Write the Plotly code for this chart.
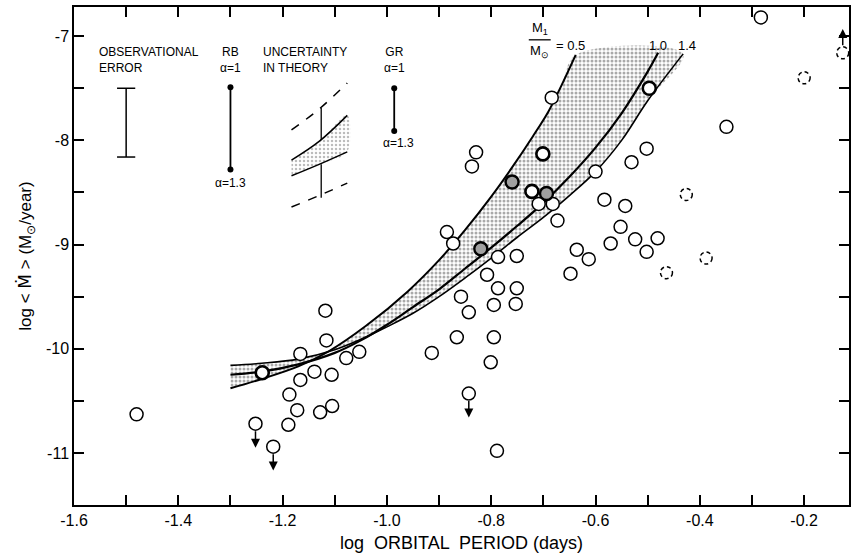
import plotly.graph_objects as go

# ---------------------------------------------------------------
# Observed systems: log orbital period (days) vs log <Mdot> (Msun/yr)
# ---------------------------------------------------------------
open_x = [-1.480, -1.118, -1.116, -1.166, -1.139, -1.106, -1.166, -1.078, -1.053,
          -1.187, -1.172, -1.128, -1.105, -1.189, -0.914, -0.866, -0.795, -0.801,
          -0.789, -0.858, -0.843, -0.808, -0.787, -0.795, -0.751, -0.753, -0.787,
          -0.751, -0.648, -0.829, -0.837, -0.709, -0.682, -0.673, -0.885, -0.873,
          -0.684, -0.600, -0.531, -0.502, -0.583, -0.543, -0.552, -0.571, -0.524,
          -0.481, -0.502, -0.636, -0.613, -0.349, -0.283]
open_y = [-10.63, -9.635, -9.92, -10.05, -10.22, -10.25, -10.30, -10.09, -10.03,
          -10.44, -10.59, -10.61, -10.55, -10.73, -10.04, -9.89, -9.89, -10.13,
          -10.98, -9.50, -9.65, -9.29, -9.42, -9.58, -9.42, -9.57, -9.12,
          -9.11, -9.28, -8.115, -8.25, -8.61, -8.61, -8.77, -8.88, -8.99,
          -7.59, -8.30, -8.21, -8.08, -8.57, -8.63, -8.83, -8.99, -8.95,
          -8.94, -9.07, -9.05, -9.14, -7.87, -6.82]

# systems drawn with a heavy outline
bold_x = [-1.239, -0.701, -0.497, -0.722]
bold_y = [-10.23, -8.13, -7.50, -8.49]

# systems drawn with a hatched interior
hatched_x = [-0.760, -0.820, -0.694]
hatched_y = [-8.40, -9.04, -8.51]

# uncertain systems (dashed outline)
dashed_x = [-0.426, -0.388, -0.464, -0.200, -0.126]
dashed_y = [-8.52, -9.13, -9.27, -7.40, -7.16]

# upper limits (arrow down) and lower limit (arrow up)
uplim_x = [-1.252, -1.218, -0.843]
uplim_y = [-10.72, -10.94, -10.43]
lowlim_x = [-0.126]
lowlim_y = [-7.16]
LIMIT_ARROW = 0.23   # arrow length, dex

# ---------------------------------------------------------------
# Theoretical tracks for white-dwarf masses M1/Msun = 0.5, 1.0, 1.4
# ---------------------------------------------------------------
m05_x = [-1.30, -1.24, -1.17, -1.11, -1.04, -0.96, -0.90, -0.85, -0.80, -0.76,
         -0.72, -0.69, -0.665, -0.638]
m05_y = [-10.38, -10.29, -10.17, -10.02, -9.78, -9.45, -9.15, -8.86, -8.54, -8.26,
         -7.96, -7.72, -7.47, -7.18]

m10_x = [-1.30, -1.24, -1.17, -1.10, -1.05, -1.00, -0.95, -0.90, -0.85, -0.80,
         -0.75, -0.70, -0.65, -0.60, -0.55, -0.50, -0.48]
m10_y = [-10.25, -10.22, -10.15, -10.04, -9.92, -9.77, -9.60, -9.43, -9.23, -9.03,
         -8.82, -8.60, -8.35, -8.07, -7.74, -7.34, -7.16]

m14_x = [-1.30, -1.24, -1.17, -1.10, -1.05, -1.00, -0.95, -0.90, -0.85, -0.80,
         -0.75, -0.70, -0.65, -0.60, -0.55, -0.50, -0.432]
m14_y = [-10.16, -10.14, -10.10, -10.01, -9.91, -9.79, -9.66, -9.50, -9.32, -9.13,
         -8.93, -8.74, -8.53, -8.30, -8.00, -7.62, -7.17]

# ---------------------------------------------------------------
# Key in the upper left
# ---------------------------------------------------------------
obs_err_x = [-1.50, -1.50]
obs_err_y = [-7.50, -8.16]
rb_x = [-1.30, -1.30]
rb_y = [-7.49, -8.28]
gr_x = [-0.986, -0.986]
gr_y = [-7.50, -7.91]

unc_x = [-1.183, -1.13, -1.076]
unc_upper_dash = [-7.90, -7.70, -7.45]
unc_upper_solid = [-8.19, -8.01, -7.76]
unc_lower_solid = [-8.34, -8.23, -8.11]
unc_lower_dash = [-8.64, -8.53, -8.41]
unc_bar_x = -1.126
unc_bar_upper = [-7.69, -8.00]
unc_bar_lower = [-8.23, -8.55]

x_tick_vals = [-1.6, -1.5, -1.4, -1.3, -1.2, -1.1, -1.0, -0.9, -0.8, -0.7,
               -0.6, -0.5, -0.4, -0.3, -0.2]
x_tick_text = ["-1.6", "", "-1.4", "", "-1.2", "", "-1.0", "",
               "-0.8", "", "-0.6", "", "-0.4", "", "-0.2"]
y_tick_vals = [-11.5, -11.0, -10.5, -10.0, -9.5, -9.0, -8.5, -8.0, -7.5, -7.0]
y_tick_text = ["", "-11", "", "-10", "", "-9", "", "-8", "", "-7"]

FONT = "Liberation Sans, Arial, sans-serif"
INK = "black"

fig = go.Figure()

stipple = dict(shape=".", fgcolor="#555", bgcolor="white", size=4, solidity=0.45)

# shaded band between the 0.5 and 1.4 tracks
fig.add_trace(go.Scatter(
    x=m05_x + m14_x[::-1], y=m05_y + m14_y[::-1],
    mode="lines", fill="toself", fillcolor="white", fillpattern=stipple,
    line=dict(width=0, shape="spline"), hoverinfo="skip", showlegend=False))

for cx, cy, w in [(m05_x, m05_y, 2), (m10_x, m10_y, 2.2), (m14_x, m14_y, 1.6)]:
    fig.add_trace(go.Scatter(x=cx, y=cy, mode="lines",
                             line=dict(color=INK, width=w, shape="spline"),
                             hoverinfo="skip", showlegend=False))

# uncertainty-in-theory inset
fig.add_trace(go.Scatter(
    x=unc_x + unc_x[::-1], y=unc_upper_solid + unc_lower_solid[::-1],
    mode="lines", fill="toself", fillcolor="white",
    fillpattern=dict(shape=".", fgcolor="#777", bgcolor="white", size=4, solidity=0.3),
    line=dict(width=0, shape="spline"), hoverinfo="skip", showlegend=False))
for uy, dash in [(unc_upper_dash, "dash"), (unc_upper_solid, "solid"),
                 (unc_lower_solid, "solid"), (unc_lower_dash, "dash")]:
    fig.add_trace(go.Scatter(x=unc_x, y=uy, mode="lines",
                             line=dict(color=INK, width=1.5, dash=dash, shape="spline"),
                             hoverinfo="skip", showlegend=False))
for seg in (unc_bar_upper, unc_bar_lower):
    fig.add_trace(go.Scatter(x=[unc_bar_x, unc_bar_x], y=seg, mode="lines",
                             line=dict(color=INK, width=1.3),
                             hoverinfo="skip", showlegend=False))

# observational error bar
fig.add_trace(go.Scatter(x=obs_err_x, y=obs_err_y, mode="lines+markers",
                         line=dict(color=INK, width=1.5),
                         marker=dict(symbol="line-ew", size=13,
                                     line=dict(color=INK, width=1.5)),
                         hoverinfo="skip", showlegend=False))
# RB and GR alpha ranges
for lx, ly in [(rb_x, rb_y), (gr_x, gr_y)]:
    fig.add_trace(go.Scatter(x=lx, y=ly, mode="lines+markers",
                             line=dict(color=INK, width=1.8),
                             marker=dict(symbol="circle", size=6, color=INK),
                             hoverinfo="skip", showlegend=False))

# data points
fig.add_trace(go.Scatter(x=open_x + uplim_x, y=open_y + uplim_y, mode="markers",
                         marker=dict(symbol="circle", size=13, color="white",
                                     line=dict(color=INK, width=1.5)),
                         showlegend=False))
fig.add_trace(go.Scatter(x=hatched_x, y=hatched_y, mode="markers",
                         marker=dict(symbol="circle", size=13, color="#a0a0a0",
                                     line=dict(color=INK, width=2.4)),
                         showlegend=False))
fig.add_trace(go.Scatter(x=bold_x, y=bold_y, mode="markers",
                         marker=dict(symbol="circle", size=13, color="white",
                                     line=dict(color=INK, width=2.6)),
                         showlegend=False))

shapes = []
for dx, dy in zip(dashed_x, dashed_y):
    shapes.append(dict(type="circle", xref="x", yref="y",
                       xsizemode="pixel", ysizemode="pixel",
                       xanchor=dx, yanchor=dy, x0=-6, x1=6, y0=-6, y1=6,
                       line=dict(color=INK, width=1.5, dash="4px,3px"),
                       fillcolor="white", layer="above"))
# fraction bar of the M1/Msun label
shapes.append(dict(type="line", xref="x", yref="y", x0=-0.728, x1=-0.686,
                   y0=-7.035, y1=-7.035, line=dict(color=INK, width=1.3)))

annotations = []
for ux, uy in zip(uplim_x, uplim_y):
    annotations.append(dict(x=ux, y=uy - LIMIT_ARROW, ax=ux, ay=uy,
                            xref="x", yref="y", axref="x", ayref="y",
                            text="", showarrow=True, arrowhead=2, arrowsize=1.2,
                            arrowwidth=1.5, arrowcolor=INK, startstandoff=6))
for ux, uy in zip(lowlim_x, lowlim_y):
    annotations.append(dict(x=ux, y=uy + LIMIT_ARROW, ax=ux, ay=uy,
                            xref="x", yref="y", axref="x", ayref="y",
                            text="", showarrow=True, arrowhead=2, arrowsize=1.2,
                            arrowwidth=1.5, arrowcolor=INK, startstandoff=6))


def label(x, y, text, size=12, xanchor="center", align="center"):
    annotations.append(dict(x=x, y=y, xref="x", yref="y", text=text,
                            showarrow=False, xanchor=xanchor, yanchor="middle",
                            align=align, font=dict(family=FONT, size=size, color=INK)))


label(-1.556, -7.226, "OBSERVATIONAL<br>ERROR", xanchor="left", align="left")
label(-1.30, -7.226, "RB<br>\u03b1=1")
label(-1.30, -8.41, "\u03b1=1.3")
label(-1.241, -7.226, "UNCERTAINTY<br>IN THEORY", xanchor="left", align="left")
label(-0.986, -7.226, "GR<br>\u03b1=1")
label(-0.977, -8.03, "\u03b1=1.3")
label(-0.707, -6.93, "M<sub>1</sub>", size=13)
label(-0.707, -7.15, "M<sub>\u2299</sub>", size=13)
label(-0.648, -7.09, "= 0.5", size=13)
label(-0.481, -7.09, "1.0", size=13)
label(-0.424, -7.09, "1.4", size=13)

axis_common = dict(showgrid=False, zeroline=False, showline=True, linecolor=INK,
                   linewidth=1.5, mirror="ticks", ticks="inside", ticklen=10,
                   tickwidth=1.5, tickcolor=INK,
                   tickfont=dict(family=FONT, size=16, color=INK))

ytitle = ("log &lt; <span style='font-family:DejaVu Sans'>\u1e40</span> &gt; "
          "(M<sub>\u2299</sub>/year)")

fig.update_layout(
    width=851, height=560,
    margin=dict(l=74, r=0, t=7, b=55),
    paper_bgcolor="white", plot_bgcolor="white",
    shapes=shapes, annotations=annotations,
    xaxis=dict(range=[-1.6, -0.114], tickmode="array", tickvals=x_tick_vals,
               ticktext=x_tick_text,
               title=dict(text="log  ORBITAL  PERIOD (days)", standoff=8,
                          font=dict(family=FONT, size=18, color=INK)),
               **axis_common),
    yaxis=dict(range=[-11.5, -6.72], tickmode="array", tickvals=y_tick_vals,
               ticktext=y_tick_text,
               title=dict(text=ytitle, standoff=10,
                          font=dict(family=FONT, size=17, color=INK)),
               **axis_common),
)

fig.write_html("out.html")
